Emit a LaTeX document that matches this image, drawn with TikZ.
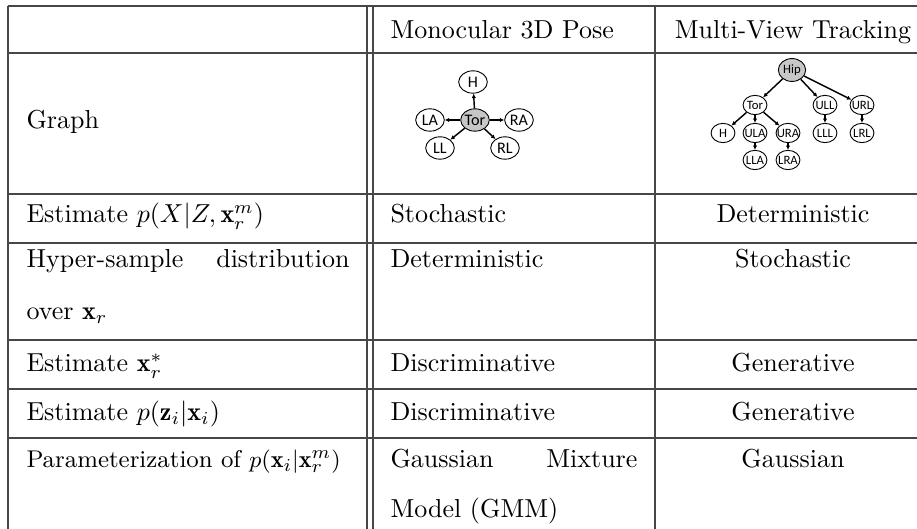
\documentclass[tikz,border=0pt]{standalone}
\usepackage{fontspec}
\newfontfamily\graphfont{Carlito}
\usetikzlibrary{shapes.geometric,arrows.meta}

\begin{document}
\begin{tikzpicture}[x=0.3846pt,y=-0.3846pt,
  rule/.style={draw=black!72,line width=0.42pt},
  cell/.style={anchor=base west,inner sep=0pt},
  ccell/.style={anchor=base,inner sep=0pt},
  joint/.style={ellipse,draw,line width=0.35pt,inner ysep=-0.5pt,inner xsep=-2pt,
    minimum width=11pt,minimum height=8.6pt,
    font=\graphfont\fontsize{6.2pt}{7pt}\selectfont},
  tjoint/.style={joint,minimum width=9.2pt,minimum height=7.4pt,
    font=\graphfont\fontsize{4.9pt}{6pt}\selectfont},
  root/.style={fill=black!22},
  limb/.style={-{Latex[length=1.7pt,width=1.7pt]},line width=0.55pt}
]
\useasboundingbox (0,0) rectangle (917,529);

% table rules
\foreach \y in {6,53,194,243,340,389,438}
  \draw[rule] (8,\y) -- (930,\y);
\foreach \x in {8,367,373,655}
  \draw[rule] (\x,6) -- (\x,535);

% header row
\node[cell] (h1) at (390,39) {Monocular 3D Pose};
\node[ccell] (h2) at (793,39) {Multi-View Tracking};

% first column
\node[anchor=west,inner sep=0pt] (r1) at (26,122) {Graph};
\node[cell] (r2) at (26,223) {Estimate $p(X|Z,\mathbf{x}_r^m)$};
\node[cell] (r3a) at (26,268) {Hyper-sample};
\node[anchor=base east,inner sep=0pt] (r3b) at (350,268) {distribution};
\node[cell] (r3c) at (26,320) {over $\mathbf{x}_r$};
\node[cell] (r4) at (26,372) {Estimate $\mathbf{x}_r^*$};
\node[cell] (r5) at (26,421) {Estimate $p(\mathbf{z}_i|\mathbf{x}_i)$};
\node[cell,font=\fontsize{9.3pt}{11pt}\selectfont] (r6) at (26,468)
  {Parameterization of $p(\mathbf{x}_i|\mathbf{x}_r^m)$};

% monocular column
\node[cell] (m2) at (390,223) {Stochastic};
\node[cell] (m3) at (390,268) {Deterministic};
\node[cell] (m4) at (390,372) {Discriminative};
\node[cell] (m5) at (390,421) {Discriminative};
\node[cell] (m6a) at (390,468) {Gaussian};
\node[anchor=base east,inner sep=0pt] (m6b) at (638,468) {Mixture};
\node[cell] (m6c) at (390,518) {Model (GMM)};

% multi-view column
\node[ccell] (v2) at (793,223) {Deterministic};
\node[ccell] (v3) at (793,268) {Stochastic};
\node[ccell] (v4) at (793,372) {Generative};
\node[ccell] (v5) at (793,421) {Generative};
\node[ccell] (v6) at (793,468) {Gaussian};

% star-shaped body graph
\node[joint,root] (mtor) at (475,120) {Tor};
\node[joint] (mh)  at (473,82)  {H};
\node[joint] (mla) at (430,120) {LA};
\node[joint] (mra) at (519,120) {RA};
\node[joint] (mll) at (440,148) {LL};
\node[joint] (mrl) at (505,148) {RL};
\foreach \t in {mh,mla,mra,mll,mrl}
  \draw[limb] (mtor) -- (\t);

% tree-shaped body graph
\node[tjoint,root,minimum width=10.5pt,minimum height=8.8pt] (thip) at (792,70) {Hip};
\node[tjoint] (ttor) at (755,105) {Tor};
\node[tjoint] (tull) at (825,105) {ULL};
\node[tjoint] (turl) at (862,105) {URL};
\node[tjoint] (th)   at (723,133) {H};
\node[tjoint] (tula) at (755,133) {ULA};
\node[tjoint] (tura) at (788,133) {URA};
\node[tjoint] (tlll) at (825,133) {LLL};
\node[tjoint] (tlrl) at (862,133) {LRL};
\node[tjoint] (tlla) at (755,160) {LLA};
\node[tjoint] (tlra) at (788,160) {LRA};
\draw[limb] (thip) -- (ttor);
\draw[limb] (thip) -- (tull);
\draw[limb] (thip) -- (turl);
\draw[limb] (ttor) -- (th);
\draw[limb] (ttor) -- (tula);
\draw[limb] (ttor) -- (tura);
\draw[limb] (tula) -- (tlla);
\draw[limb] (tura) -- (tlra);
\draw[limb] (tull) -- (tlll);
\draw[limb] (turl) -- (tlrl);
\end{tikzpicture}
\end{document}
